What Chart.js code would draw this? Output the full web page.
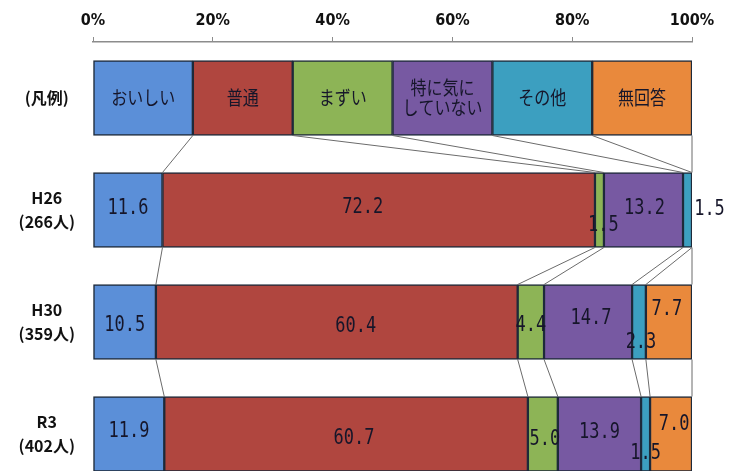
<!DOCTYPE html>
<html>
<head>
<meta charset="utf-8">
<script src="https://cdn.jsdelivr.net/npm/chart.js@4.4.0/dist/chart.umd.min.js"></script>
<style>
  html, body { margin: 0; padding: 0; background: #fff; overflow: hidden; }
  canvas { display: block; }
</style>
</head>
<body>
<canvas id="chart" width="740" height="520"></canvas>
<script>
// row labels (top row is the legend row)
const rowLabels = [['(凡例)'], ['H26', '(266人)'], ['H30', '(359人)'], ['R3', '(402人)']];
const answers = ['おいしい', '普通', 'まずい', '特に気に\nしていない', 'その他', '無回答'];
const legendRow = [16.67, 16.67, 16.67, 16.67, 16.66, 16.66];
const xTicks = [0, 20, 40, 60, 80, 100];

// percentages for H26, H30, R3
const oishii = [11.6, 10.5, 11.9];
const futsuu = [72.2, 60.4, 60.7];
const mazui = [1.5, 4.4, 5.0];
const kinishinai = [13.2, 14.7, 13.9];
const sonota = [1.5, 2.3, 1.5];
const mukaitou = [0, 7.7, 7.0];

const series = [oishii, futsuu, mazui, kinishinai, sonota, mukaitou];
const colors = ['#5b8fd8', '#b0463f', '#8db456', '#7759a2', '#3c9fc0', '#e9893c'];

// small nudges for value labels that sit off-centre in the original [dx, dy]
const labelNudge = {
  1: [[0, -1], [-16, -2], [4, 16], [1, -1], [22, 0], [0, 0]],
  2: [[0, 4], [19, 5], [0, 4], [3, -3], [2, 21], [-2, -12]],
  3: [[0, -2], [8, 5], [2, 6], [0, -1], [0, 20], [3, -9]]
};

// Excel style series lines between the stacked bars
const seriesLines = {
  id: 'seriesLines',
  afterDatasetsDraw(chart) {
    const ctx = chart.ctx;
    const n = chart.data.labels.length;
    ctx.save();
    ctx.strokeStyle = '#6b6b6b';
    ctx.lineWidth = 1;
    chart.data.datasets.forEach((ds, k) => {
      const bars = chart.getDatasetMeta(k).data;
      for (let j = 0; j < n - 1; j++) {
        const a = bars[j], b = bars[j + 1];
        ctx.beginPath();
        ctx.moveTo(a.x, a.y + a.height / 2);
        ctx.lineTo(b.x, b.y - b.height / 2);
        ctx.stroke();
      }
    });
    ctx.restore();
  }
};

// text inside the segments
const segmentLabels = {
  id: 'segmentLabels',
  afterDatasetsDraw(chart) {
    const ctx = chart.ctx;
    ctx.save();
    ctx.fillStyle = '#16162a';
    ctx.textAlign = 'center';
    ctx.textBaseline = 'middle';
    chart.data.datasets.forEach((ds, k) => {
      chart.getDatasetMeta(k).data.forEach((bar, j) => {
        const cx = (bar.x + bar.base) / 2;
        let lines;
        if (j === 0) {
          lines = answers[k].split('\n');
          ctx.font = '16px "Noto Sans CJK JP"';
        } else {
          if (!ds.data[j]) return;
          lines = [ds.data[j].toFixed(1)];
          ctx.font = '17px "DejaVu Sans Mono"';
        }
        const nudge = (labelNudge[j] || [])[k] || [0, 0];
        lines.forEach((t, i) => {
          ctx.save();
          ctx.translate(cx + nudge[0], bar.y + nudge[1] + (i - (lines.length - 1) / 2) * 20);
          ctx.scale(1, 1.2);
          ctx.fillText(t, 0, 0);
          ctx.restore();
        });
      });
    });
    ctx.restore();
  }
};

new Chart(document.getElementById('chart'), {
  type: 'bar',
  data: {
    labels: rowLabels,
    datasets: series.map((vals, k) => ({
      label: answers[k],
      data: [legendRow[k], ...vals],
      backgroundColor: colors[k],
      borderColor: '#1e2a3a',
      borderWidth: 1.5,
      borderSkipped: false,
      barThickness: 75
    }))
  },
  options: {
    indexAxis: 'y',
    responsive: false,
    animation: false,
    layout: { padding: { top: 0, right: 48, bottom: 3, left: 0 } },
    plugins: { legend: { display: false }, tooltip: { enabled: false } },
    scales: {
      x: {
        stacked: true,
        position: 'top',
        min: 0,
        max: 100,
        afterBuildTicks: s => { s.ticks = xTicks.map(v => ({ value: v })); },
        afterFit: s => { s.height = 40; },
        grid: { drawOnChartArea: false, tickLength: 5, color: '#8c8c8c' },
        border: { color: '#8c8c8c', width: 1.5 },
        ticks: {
          padding: 7,
          color: '#111',
          font: { family: "'Liberation Sans Narrow', 'DejaVu Sans Condensed', 'Liberation Sans'", size: 16, weight: 'bold' },
          callback: v => v + '%'
        }
      },
      y: {
        stacked: true,
        afterFit: s => { s.width = 93; },
        grid: { display: false, drawTicks: false },
        border: { display: false },
        ticks: {
          crossAlign: 'center',
          padding: 18,
          color: '#111',
          font: { family: "'Noto Sans CJK JP'", size: 16, weight: 'bold', lineHeight: 1.5 }
        }
      }
    }
  },
  plugins: [seriesLines, segmentLabels]
});
</script>
</body>
</html>
